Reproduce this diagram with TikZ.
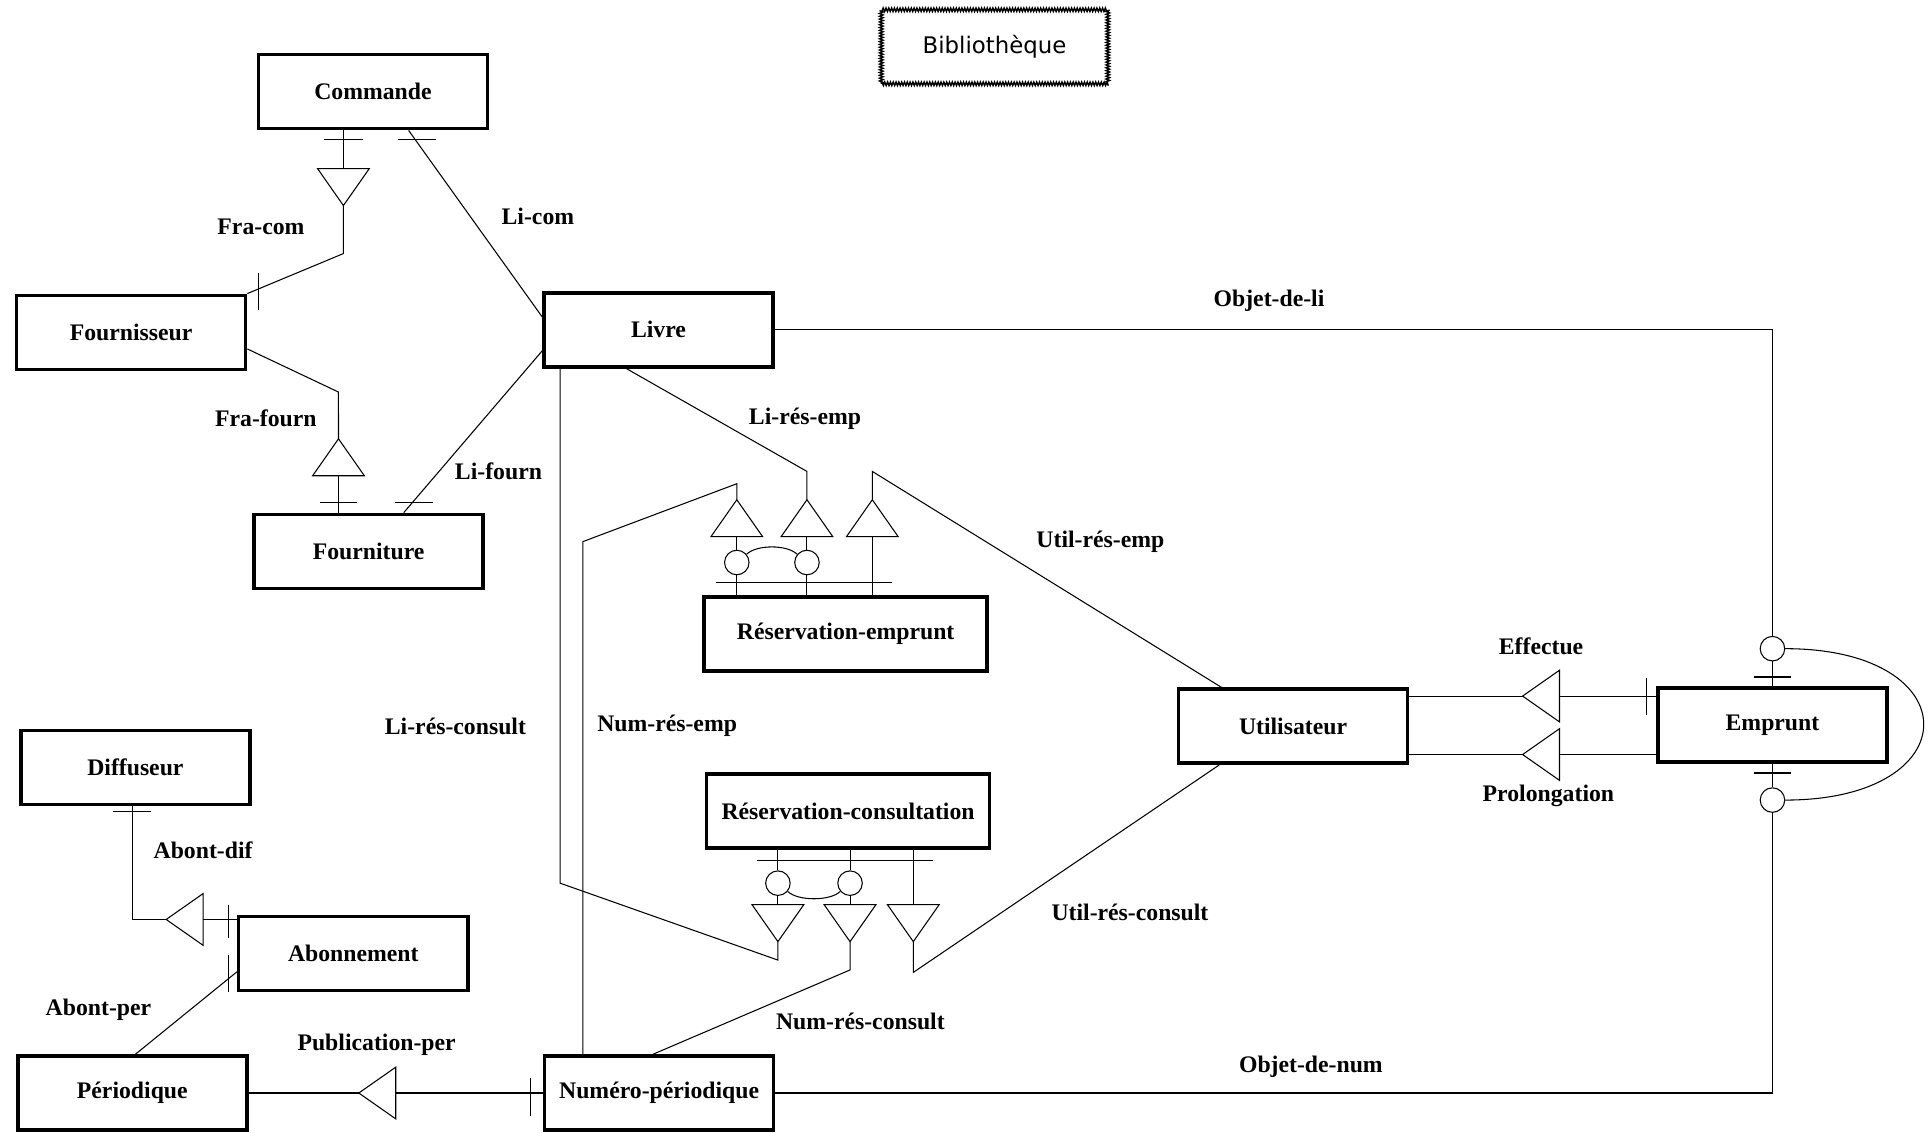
\documentclass[tikz,border=0pt]{standalone}
\usepackage{fontspec}
\setmainfont{Liberation Serif}
\newfontfamily\titrefont{DejaVu Sans}
\usepackage{tikz}
\usetikzlibrary{calc, decorations.pathmorphing}

\begin{document}
\begin{tikzpicture}[
    x=0.02462cm, y=-0.02462cm,
    entite/.style={rectangle, draw, line width=2pt, minimum width=4.58cm, minimum height=1.48cm, font=\fontsize{13.5}{16}\selectfont\bfseries},
    ample/.style={minimum width=5.66cm},
    lien/.style={line width=0.6pt},
    rond/.style={circle, draw, line width=0.6pt, minimum size=0.49cm, inner sep=0pt},
    etiq/.style={font=\fontsize{13.5}{16}\selectfont\bfseries, inner sep=1pt},
    titre/.style={draw, decorate, decoration={zigzag, segment length=1.6pt, amplitude=1pt}, line width=0.8pt, minimum width=4.53cm, minimum height=1.48cm, font=\titrefont\fontsize{13}{15}\selectfont},
    pointe/.pic={
      \draw[lien] (-21,0) -- (21,0) -- (0,30) -- cycle;
      \coordinate (-base) at (0,0);
      \coordinate (-apex) at (0,30);
    }
  ]
  \useasboundingbox (0,0) rectangle (1568,920);

  \node[titre] (titre) at (808,38) {Bibliothèque};

  \node[entite] (commande) at (303,74.5) {Commande};
  \node[entite] (fournisseur) at (106.5,270) {Fournisseur};
  \node[entite] (livre) at (535,268) {Livre};
  \node[entite] (fourniture) at (299.5,448) {Fourniture};
  \node[entite, ample] (reservemp) at (687,515) {Réservation-emprunt};
  \node[entite, ample] (reservcons) at (689,659) {Réservation-consultation};
  \node[entite] (utilisateur) at (1050.5,590) {Utilisateur};
  \node[entite] (emprunt) at (1440,589) {Emprunt};
  \node[entite] (diffuseur) at (110,623.5) {Diffuseur};
  \node[entite] (abonnement) at (287,774.5) {Abonnement};
  \node[entite] (periodique) at (107.5,888) {Périodique};
  \node[entite] (numero) at (535.5,888) {Numéro-périodique};

  \pic (fcom) at (279,137) {pointe};
  \pic[rotate=180] (ffourn) at (275,386.5) {pointe};
  \pic[rotate=180] (remp1) at (598.6,436) {pointe};
  \pic[rotate=180] (remp2) at (655.6,436) {pointe};
  \pic[rotate=180] (remp3) at (708.7,436) {pointe};
  \pic (rcons1) at (632,735) {pointe};
  \pic (rcons2) at (690.6,735) {pointe};
  \pic (rcons3) at (742,735) {pointe};
  \pic[rotate=-90] (eff) at (1267,565.5) {pointe};
  \pic[rotate=-90] (prol) at (1267,613) {pointe};
  \pic[rotate=-90] (pub) at (321.5,888) {pointe};
  \pic[rotate=-90] (dif) at (165,747) {pointe};

  \node[rond] (ce1) at (598.6,457) {};
  \node[rond] (ce2) at (655.6,457) {};
  \node[rond] (cc1) at (632,717.5) {};
  \node[rond] (cc2) at (690.6,717.5) {};
  \node[rond] (cu) at (1440,527) {};
  \node[rond] (cd) at (1440,650) {};

  \draw[lien] (commande.south -| fcom-base) -- (fcom-base);
  \draw[lien] (fcom-apex) -- ++(0,39) -- (fournisseur.north east);
  \draw[lien] ($(commande.south)+(29,0)$) -- ($(livre.west)+(0,-10.5)$);
  \draw[lien] ($(fournisseur.east)+(0,13.5)$) -- ++(74,35) -- (ffourn-apex);
  \draw[lien] (ffourn-base) -- (fourniture.north -| ffourn-base);
  \draw[lien] ($(livre.west)+(0,17)$) -- ($(fourniture.north)+(28.5,0)$);

  \draw[lien] (livre.east) -- (livre.east -| cu) -- (cu);
  \draw[lien] (cu) -- (emprunt.north);
  \draw[lien] (numero.east) -- (numero.east -| cd) -- (cd);
  \draw[lien] (cd) -- (emprunt.south);
  \draw[lien] (cu.east) .. controls +(150,0) and +(150,0) .. (cd.east);

  \draw[lien] (eff-apex -| utilisateur.east) -- (eff-apex);
  \draw[lien] (eff-base) -- (eff-base -| emprunt.west);
  \draw[lien] (prol-apex -| utilisateur.east) -- (prol-apex);
  \draw[lien] (prol-base) -- (prol-base -| emprunt.west);

  \draw[lien] (remp1-apex) -- ++(0,-13) -- ++(-125,47) -- ($(numero.north)+(-62,0)$);
  \draw[lien] (remp2-apex) -- ++(0,-23) -- ($(livre.south)+(-26,0)$);
  \draw[lien] (remp3-apex) -- ++(0,-23) -- ($(utilisateur.north)+(-58,0)$);
  \draw[lien] (remp1-base) -- (ce1) -- (ce1 |- reservemp.north);
  \draw[lien] (remp2-base) -- (ce2) -- (ce2 |- reservemp.north);
  \draw[lien] (remp3-base) -- (remp3-base |- reservemp.north);
  \draw[lien] (ce1.40) .. controls +(8,-8) and +(-8,-8) .. (ce2.140);

  \draw[lien] ($(livre.south)+(-80,0)$) -- ++(0,418) -- ($(rcons1-apex)+(0,15)$) -- (rcons1-apex);
  \draw[lien] (rcons2-apex) -- ++(0,23) -- ($(numero.north)+(-5,0)$);
  \draw[lien] (rcons3-apex) -- ++(0,25) -- ($(utilisateur.south)+(-60,0)$);
  \draw[lien] (rcons1-base) -- (cc1) -- (cc1 |- reservcons.south);
  \draw[lien] (rcons2-base) -- (cc2) -- (cc2 |- reservcons.south);
  \draw[lien] (rcons3-base) -- (rcons3-base |- reservcons.south);
  \draw[lien] (cc1.-40) .. controls +(8,8) and +(-8,8) .. (cc2.-140);

  \draw[lien] (numero.west) -- (pub-base);
  \draw[lien] (pub-apex) -- (periodique.east);
  \draw[lien] ($(diffuseur.south)+(-2.5,0)$) |- (dif-apex);
  \draw[lien] (dif-base) -- (dif-base -| abonnement.west);
  \draw[lien] ($(periodique.north)+(2.5,0)$) -- ($(abonnement.west)+(0,15)$);

  \draw[lien] (263,113) -- ++(32,0);
  \draw[lien] (323,113) -- ++(31,0);
  \draw[lien] (210,222) -- ++(0,30);
  \draw[lien] (260,408) -- ++(30,0);
  \draw[lien] (321,408) -- ++(31,0);
  \draw[lien] (582,473) -- (725,473);
  \draw[lien] (615,699) -- (758,699);
  \draw[lien] (1425,550) -- ++(30,0);
  \draw[lien] (1425,628) -- ++(30,0);
  \draw[lien] (1338,551) -- ++(0,30);
  \draw[lien] (431,876) -- ++(0,31);
  \draw[lien] (92,659.5) -- ++(31,0);
  \draw[lien] (186,735) -- ++(0,27);
  \draw[lien] (186,776) -- ++(0,30);

  \node[etiq] (lfracom) at (212,184) {Fra-com};
  \node[etiq] (llicom) at (437,176) {Li-com};
  \node[etiq] (lfrafourn) at (216,340) {Fra-fourn};
  \node[etiq] (llifourn) at (405,383) {Li-fourn};
  \node[etiq] (lobjli) at (1031,244) {Objet-de-li};
  \node[etiq] (lliresemp) at (654,340) {Li-rés-emp};
  \node[etiq] (lutilresemp) at (894,440) {Util-rés-emp};
  \node[etiq] (leffectue) at (1252,525) {Effectue};
  \node[etiq] (lprolong) at (1258,647) {Prolongation};
  \node[etiq] (lliresconsult) at (370,590) {Li-rés-consult};
  \node[etiq] (lnumresemp) at (542,590) {Num-rés-emp};
  \node[etiq] (lutilresconsult) at (918,741) {Util-rés-consult};
  \node[etiq] (lnumresconsult) at (699,830) {Num-rés-consult};
  \node[etiq] (lobjnum) at (1065,867) {Objet-de-num};
  \node[etiq] (lpubper) at (306,849) {Publication-per};
  \node[etiq] (labontdif) at (165,691) {Abont-dif};
  \node[etiq] (labontper) at (80,820) {Abont-per};
\end{tikzpicture}
\end{document}
